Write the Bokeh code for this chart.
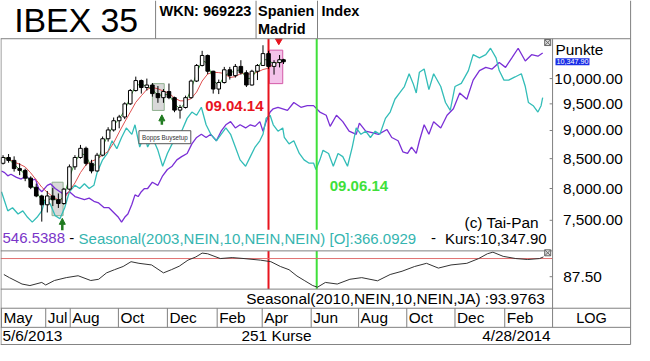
import numpy as np
import pandas as pd
from bokeh.plotting import figure
from bokeh.models import Range1d, LinearScale, LogScale, Label, Arrow, NormalHead
from bokeh.core.properties import value
from bokeh.embed import file_html
from bokeh.resources import INLINE

# ---------------- DATA ----------------
START_DATE = "2013-05-06"

# weekly candles (mid-week dates), IBEX 35
candle_dates = ["2013-05-08", "2013-05-15", "2013-05-22", "2013-05-29", "2013-06-05", "2013-06-12",
                "2013-06-19", "2013-06-26", "2013-07-03", "2013-07-10", "2013-07-17", "2013-07-24",
                "2013-07-31", "2013-08-07", "2013-08-14", "2013-08-21", "2013-08-28", "2013-09-04",
                "2013-09-11", "2013-09-18", "2013-09-25", "2013-10-02", "2013-10-09", "2013-10-16",
                "2013-10-23", "2013-10-30", "2013-11-06", "2013-11-13", "2013-11-20", "2013-11-27",
                "2013-12-04", "2013-12-11", "2013-12-18", "2013-12-25", "2014-01-01", "2014-01-08",
                "2014-01-15", "2014-01-22", "2014-01-29", "2014-02-05", "2014-02-12", "2014-02-19",
                "2014-02-26", "2014-03-05", "2014-03-12", "2014-03-19", "2014-03-26", "2014-04-02",
                "2014-04-09", "2014-04-16", "2014-04-23", "2014-04-28"]
candle_open = [8420, 8520, 8470, 8330, 8300, 8170, 8020, 7880, 7740, 7880, 7820, 7760,
               7990, 8360, 8520, 8680, 8420, 8290, 8560, 8850, 9010, 9180, 9250, 9500,
               9760, 9960, 9820, 9870, 9700, 9620, 9740, 9620, 9380, 9430, 9620, 9950,
               10270, 10480, 10150, 9790, 9920, 10180, 10060, 10250, 10120, 9870, 10150, 10270,
               10520, 10250, 10330, 10390]
candle_high = [8560, 8580, 8540, 8420, 8330, 8200, 8080, 7900, 7960, 8010, 7920, 8010,
               8400, 8560, 8740, 8710, 8480, 8600, 8890, 9060, 9240, 9290, 9530, 9790,
               10040, 9980, 10000, 9910, 9850, 9790, 9900, 9640, 9480, 9660, 9980, 10300,
               10580, 10500, 10160, 9980, 10240, 10240, 10300, 10380, 10170, 10180, 10300, 10700,
               10580, 10380, 10490, 10410]
candle_low = [8400, 8430, 8280, 8220, 8120, 7990, 7860, 7480, 7620, 7720, 7690, 7740,
              7970, 8310, 8500, 8380, 8250, 8280, 8540, 8800, 8980, 9040, 9210, 9480,
              9740, 9700, 9760, 9640, 9520, 9520, 9590, 9340, 9220, 9410, 9600, 9930,
              10250, 10090, 9700, 9690, 9900, 9980, 10020, 10080, 9830, 9860, 9970, 10260,
              10200, 10080, 10230, 10300]
candle_close = [8520, 8470, 8330, 8300, 8170, 8020, 7880, 7740, 7880, 7820, 7760, 7990,
                8360, 8520, 8680, 8420, 8290, 8560, 8850, 9010, 9180, 9250, 9500, 9760,
                9960, 9820, 9870, 9700, 9620, 9740, 9620, 9380, 9430, 9620, 9950, 10270,
                10480, 10150, 9790, 9920, 10180, 10060, 10250, 10120, 9870, 10150, 10270, 10520,
                10250, 10330, 10390, 10347.90]
last_close = 10347.90

# seasonal overlays (days after START_DATE, level on the price axis)
purple_days = [0, 4, 8, 12, 19, 25, 31, 37, 43, 47, 51, 58, 62, 68, 74, 80, 86, 93, 99, 105, 111, 117,
               123, 130, 136, 142, 148, 152, 156, 160, 165, 169, 173, 177, 181, 185, 191, 198, 204, 210,
               216, 222, 228, 235, 241, 247, 253, 259, 265, 272, 278, 284, 290, 296, 302, 309, 315, 321,
               327, 331, 335, 340, 344, 350, 356, 362, 370, 379, 387, 395, 403, 411, 416, 424, 432, 440,
               449, 453, 461, 469, 477, 488, 494, 502, 508, 514, 519, 525, 529, 535, 541, 547, 556, 564,
               572, 580, 589, 597, 605, 613, 621, 630, 638, 646, 654, 663, 671, 679, 685]
purple_vals = [8290, 8262, 8209, 8235, 8183, 8155, 8209, 8130, 8155, 7999, 7948, 8052, 8077, 7999, 7948,
               7897, 7948, 7871, 7845, 7821, 7845, 7795, 7769, 7694, 7694, 7620, 7546, 7473, 7546, 7596,
               7745, 7897, 7871, 7948, 7999, 8000, 8103, 8052, 8209, 8315, 8370, 8479, 8535, 8590, 8758,
               8873, 8930, 8873, 8930, 8814, 8987, 9105, 9163, 9047, 9105, 9047, 9105, 9075, 9163, 8987,
               9163, 9343, 9405, 9434, 9405, 9374, 9526, 9434, 9465, 9465, 9343, 9283, 9075, 9283, 9163,
               8987, 8930, 9135, 8987, 8959, 8930, 9017, 8873, 8814, 8618, 8590, 8702, 8590, 8814, 9105,
               8930, 9163, 9047, 9283, 9405, 9713, 9589, 9969, 10164, 10230, 10196, 10330, 10230, 10430,
               10635, 10364, 10497, 10465, 10532]
cyan_days = [0, 4, 8, 14, 21, 27, 33, 39, 45, 51, 56, 62, 68, 74, 80, 86, 93, 99, 105, 111, 117, 121, 128,
             134, 140, 146, 152, 158, 165, 169, 175, 181, 185, 191, 198, 204, 210, 216, 222, 228, 235, 241,
             247, 253, 259, 265, 272, 278, 284, 290, 296, 302, 309, 315, 321, 327, 331, 335, 340, 344, 350,
             356, 358, 364, 370, 377, 383, 389, 395, 398, 403, 407, 414, 420, 426, 432, 438, 444, 449, 455,
             461, 467, 473, 479, 486, 492, 498, 504, 510, 516, 521, 525, 529, 535, 541, 547, 556, 562, 568,
             574, 582, 591, 597, 605, 613, 619, 626, 630, 636, 642, 650, 658, 663, 667, 673, 679, 683, 685]
cyan_vals = [7948, 7795, 7645, 7694, 7596, 7645, 7546, 7473, 7546, 7645, 7845, 7745, 7571, 7523, 7694, 7948,
             8052, 7999, 8077, 7999, 8052, 8262, 8479, 8590, 8814, 8674, 8873, 9047, 8930, 9105, 8702, 8930,
             8702, 8873, 8645, 8370, 8590, 8758, 8814, 8987, 9224, 9343, 9283, 9434, 9105, 8930, 8814, 8930,
             9047, 8930, 8702, 8479, 8370, 8535, 8702, 8814, 8930, 9224, 9283, 9105, 8987, 9047, 8873, 8758,
             8814, 8590, 8479, 8424, 8424, 8315, 8479, 8645, 8590, 8370, 8590, 8535, 8370, 8702, 9047, 8930,
             8987, 8873, 8987, 8930, 9224, 9343, 9589, 9713, 9840, 10098, 9903, 9713, 10130, 10196, 9777,
             10098, 9840, 9526, 9374, 9840, 9903, 10164, 10497, 10430, 10497, 10635, 10430, 10164, 9969,
             9969, 10033, 10098, 9840, 9526, 9465, 9343, 9465, 9619]

# lower panel: Seasonal(2010,NEIN,10,NEIN,JA)
ind_days = [3, 10, 26, 36, 51, 56, 67, 82, 97, 113, 123, 133, 143, 154, 164, 174, 190, 205, 215, 225,
            236, 246, 254, 261, 277, 292, 307, 328, 341, 353, 364, 374, 384, 394, 400, 410, 425, 441,
            456, 476, 492, 507, 523, 538, 553, 569, 589, 604, 615, 622, 635, 651, 666, 681, 686]
ind_vals = [88.56, 87.04, 83.94, 83.20, 84.72, 83.47, 85.65, 87.04, 87.96, 85.65, 86.25, 89.35, 90.88,
            92.45, 94.77, 93.98, 93.19, 89.35, 90.88, 92.59, 95.51, 97.08, 98.93, 98.61, 96.29, 96.76,
            96.29, 95.51, 94.77, 92.45, 90.88, 87.82, 85.51, 83.20, 82.41, 84.72, 83.94, 86.25, 87.04,
            85.51, 88.56, 90.14, 92.45, 93.98, 91.67, 93.19, 93.98, 96.29, 98.61, 99.39, 97.36, 96.29,
            95.83, 96.29, 97.08]
ind_ref_level = 96.3

price_ticks = [7500, 8000, 8500, 9000, 9500, 10000]
price_tick_labels = ["7,500.00", "8,000.00", "8,500.00", "9,000.00", "9,500.00", "10,000.00"]
ind_ticks = [87.5]
ind_tick_labels = ["87.50"]

month_dates = ["2013-05-06", "2013-07-01", "2013-08-01", "2013-10-01", "2013-12-02", "2014-02-03",
               "2014-04-01", "2014-06-02", "2014-08-01", "2014-10-01", "2014-12-01", "2015-02-02"]
month_labels = ["May", "Jul", "Aug", "Oct", "Dec", "Feb", "Apr", "Jun", "Aug", "Oct", "Dec", "Feb"]

red_date = "2014-04-09"
green_date = "2014-06-09"

setup_left = ["2013-07-09", "2013-11-13"]
setup_right = ["2013-07-23", "2013-11-28"]
setup_bottom = [7571, 9374]
setup_top = [8103, 9898]
arrow_dates = ["2013-07-22", "2013-11-25"]
arrow_tail = [7350, 9105]
arrow_tip = [7530, 9290]
pink_left, pink_right = "2014-04-10", "2014-04-27"
pink_bottom, pink_top = 9898, 10594
signal_date, signal_level = "2014-04-22", 10800
label_red_level = 9465
label_green_level = 8040
bopps_date, bopps_level = "2013-10-27", 8878

# ---------------- LAYOUT (reference pixel frame 650 x 361) ----------------
W, H = 634, 345
RW, RH = 650, 361
FS = 0.965
FONT = "Liberation Sans"
GRAY = "#808080"
PX_PER_DAY = 0.81
X_D0 = 1.0
Y_HI = (10000.0, 81.7)
Y_LO = (7500.0, 230.0)
IND_A = (87.5, 289.0)
IND_B = (96.3, 270.0)
MAIN_TOP, MAIN_BOT = 40, 262
TEXT_BAND = 240
IND_TOP, IND_BOT = 262, 302
LBL_BOT, MON_BOT, END_Y = 322, 342, 360
SPLIT_X, RIGHT_X = 566, 646
DAY_MS = 86400000.0


def fs(v):
    return value(f"{v * FS:.1f}px")


def dts(lst):
    return pd.to_datetime(lst).values


d0 = pd.Timestamp(START_DATE)
x_start = d0 - pd.Timedelta(days=X_D0 / PX_PER_DAY)
x_end = x_start + pd.Timedelta(days=RW / PX_PER_DAY)

kln = (np.log(Y_HI[0]) - np.log(Y_LO[0])) / (Y_LO[1] - Y_HI[1])


def price_at(y):
    return float(np.exp(np.log(Y_HI[0]) - (y - Y_HI[1]) * kln))


islope = (IND_B[0] - IND_A[0]) / (IND_A[1] - IND_B[1])


def ind_at(y):
    return IND_A[0] + (IND_A[1] - y) * islope


p = figure(width=W, height=H, x_range=Range1d(0, RW), y_range=Range1d(RH, 0),
           output_backend="svg", toolbar_location=None, min_border=0,
           x_axis_location=None, y_axis_location=None, outline_line_color=None)
p.grid.visible = False
p.background_fill_color = "white"
p.border_fill_color = "white"
p.extra_x_ranges = {"date": Range1d(start=x_start.to_pydatetime(), end=x_end.to_pydatetime())}
p.extra_x_scales = {"date": LinearScale()}
p.extra_y_ranges = {"price": Range1d(start=price_at(RH), end=price_at(0)),
                    "ind": Range1d(start=ind_at(RH), end=ind_at(0))}
p.extra_y_scales = {"price": LogScale(), "ind": LinearScale()}

DP = dict(x_range_name="date", y_range_name="price")


def txt(x, y, s, size, color="black", align="left", bold=False, x_offset=0, **kw):
    p.text(x=x, y=y, text=s, text_font=value(FONT), text_font_size=fs(size), text_color=color,
           text_align=align, text_baseline="middle", text_font_style="bold" if bold else "normal",
           x_offset=x_offset, **kw)


# ---- setup boxes and pink box ----
p.quad(left=dts(setup_left), right=dts(setup_right), bottom=setup_bottom, top=setup_top,
       fill_color="#c8c8c8", fill_alpha=0.7, line_color="#8fb08f", line_width=1, **DP)
p.quad(left=dts([pink_left]), right=dts([pink_right]), bottom=[pink_bottom], top=[pink_top],
       fill_color="#f2b8e6", fill_alpha=0.85, line_color="#d45aa8", line_width=1, **DP)

# ---- seasonal overlays ----
p.line(x=(d0 + pd.to_timedelta(purple_days, unit="D")).values, y=purple_vals,
       line_color="#7a2fd6", line_width=1.3, **DP)
p.line(x=(d0 + pd.to_timedelta(cyan_days, unit="D")).values, y=cyan_vals,
       line_color="#33bdb8", line_width=1.3, **DP)

# ---- signal vertical lines (main + lower panel) ----
for dte, col in [(red_date, "#e8141e"), (green_date, "#3fe03a")]:
    p.segment(x0=dts([dte, dte]), x1=dts([dte, dte]), y0=[MAIN_TOP, IND_TOP], y1=[TEXT_BAND, IND_BOT],
              line_color=col, line_width=2, x_range_name="date")

# ---- moving averages + candles ----
cd = dts(candle_dates)
cl = pd.Series(candle_close, dtype=float)
p.line(x=cd, y=cl.rolling(5, min_periods=1).mean().values, line_color="#e05050", line_width=1, **DP)
p.line(x=cd, y=cl.rolling(2, min_periods=1).mean().values, line_color="#3a9a3a", line_width=1, **DP)
p.segment(x0=cd, x1=cd, y0=candle_low, y1=candle_high, line_color="black", line_width=1, **DP)
o = np.array(candle_open, dtype=float)
c = np.array(candle_close, dtype=float)
up = c >= o
p.vbar(x=cd[up], width=4.5 * DAY_MS, top=c[up], bottom=o[up], fill_color="white",
       line_color="black", line_width=1, **DP)
p.vbar(x=cd[~up], width=4.5 * DAY_MS, top=o[~up], bottom=c[~up], fill_color="black",
       line_color="black", line_width=1, **DP)

# arrows and signal marker
for dte, t0, t1 in zip(arrow_dates, arrow_tail, arrow_tip):
    ms = pd.Timestamp(dte).value / 1e6
    p.add_layout(Arrow(end=NormalHead(size=6, fill_color="#1f7a1f", line_color="#1f7a1f"),
                       x_start=ms, y_start=t0, x_end=ms, y_end=t1, line_color="#1f7a1f",
                       line_width=2.5, **DP))
p.scatter(x=dts([signal_date]), y=[signal_level], marker="inverted_triangle", size=7,
          fill_color="#e8141e", line_color="#e8141e", **DP)

# ---- lower indicator panel ----
p.segment(x0=[0], x1=[SPLIT_X], y0=[ind_ref_level], y1=[ind_ref_level], line_color="#e07070",
          line_width=1, y_range_name="ind")
p.line(x=(d0 + pd.to_timedelta(ind_days, unit="D")).values, y=ind_vals, line_color="#333333",
       line_width=1, x_range_name="date", y_range_name="ind")

# ---- frame lines ----
hl = [(0, RIGHT_X, MAIN_TOP), (0, SPLIT_X, MAIN_BOT), (0, SPLIT_X, IND_BOT), (0, RIGHT_X, LBL_BOT),
      (0, RIGHT_X, MON_BOT), (0, RIGHT_X, END_Y)]
p.segment(x0=[a for a, b, y in hl], x1=[b for a, b, y in hl], y0=[y for a, b, y in hl],
          y1=[y for a, b, y in hl], line_color=GRAY, line_width=1)
vl = [(0.5, MAIN_TOP, END_Y), (SPLIT_X, MAIN_TOP, MON_BOT), (RIGHT_X, 0, END_Y),
      (159, 0, MAIN_TOP), (262, 0, MAIN_TOP), (325, 0, MAIN_TOP)]
p.segment(x0=[x for x, a, b in vl], x1=[x for x, a, b in vl], y0=[a for x, a, b in vl],
          y1=[b for x, a, b in vl], line_color=GRAY, line_width=1)
md = dts(month_dates)
p.segment(x0=md, x1=md, y0=[LBL_BOT] * len(md), y1=[MON_BOT] * len(md), line_color=GRAY,
          line_width=1, x_range_name="date")
p.scatter(x=[561, 561], y=[44, 264], marker="square_x", size=6, line_color="#666666",
          fill_color="#dddddd")

# ---- texts ----
txt([14], [20], ["IBEX 35"], 35)
txt([163], [11], ["WKN: 969223"], 15, bold=True)
txt([264], [11], ["Spanien"], 15, bold=True)
txt([264], [30], ["Madrid"], 15, bold=True)
txt([329], [11], ["Index"], 15, bold=True)

txt(dts([red_date]), [label_red_level], ["09.04.14"], 15.5, color="#e8141e", align="right", bold=True,
    x_offset=-5, **DP)
txt(dts([green_date]), [label_green_level], ["09.06.14"], 15.5, color="#3fe03a", bold=True,
    x_offset=13, **DP)
txt([552], [232], ["(c) Tai-Pan"], 16, align="right")

txt([2], [249], ["546.5388"], 15.5, color="#7a35c8")
txt([73], [249], ["-"], 15.5, align="center")
txt([80], [249], ["Seasonal(2003,NEIN,10,NEIN,NEIN) [O]:366.0929"], 15.5, color="#35b5b0")
txt([444], [249], ["-"], 15.5, align="center")
txt([560], [249], ["Kurs:10,347.90"], 15.5, align="right")

txt([638] * len(price_ticks), price_ticks, price_tick_labels, 16, align="right", y_range_name="price")
p.segment(x0=[SPLIT_X - 3] * len(price_ticks), x1=[SPLIT_X] * len(price_ticks), y0=price_ticks,
          y1=price_ticks, line_color=GRAY, y_range_name="price")
txt([569], [51], ["Punkte"], 16)
p.add_layout(Label(x=569, y=last_close, y_range_name="price", text="10,347.90",
                   text_font=FONT, text_font_size=f"{7.5 * FS:.1f}px", text_color="white",
                   text_baseline="middle", background_fill_color="#1a2ee6", padding=1))

txt([577] * len(ind_ticks), ind_ticks, ind_tick_labels, 16, y_range_name="ind")
p.segment(x0=[SPLIT_X - 3] * len(ind_ticks), x1=[SPLIT_X] * len(ind_ticks), y0=ind_ticks,
          y1=ind_ticks, line_color=GRAY, y_range_name="ind")

txt([558], [312], ["Seasonal(2010,NEIN,10,NEIN,JA) :93.9763"], 16, align="right")
txt(md, [332] * len(md), month_labels, 16, x_offset=2, x_range_name="date")
txt([606], [332], ["LOG"], 15, align="center")
txt([2], [351], ["5/6/2013"], 16)
txt([283], [351], ["251 Kurse"], 16, align="center")
txt([564], [351], ["4/28/2014"], 16, align="right")

bl = Label(x=pd.Timestamp(bopps_date).value / 1e6, y=bopps_level, x_range_name="date",
           y_range_name="price", text="Bopps Buysetup", text_font=FONT,
           text_font_size=f"{6.5 * FS:.1f}px", text_color="#333333", text_baseline="middle",
           background_fill_color="white", border_line_color="#555555", padding=3)
p.add_layout(bl)

open("out.html", "w").write(file_html(p, INLINE))
